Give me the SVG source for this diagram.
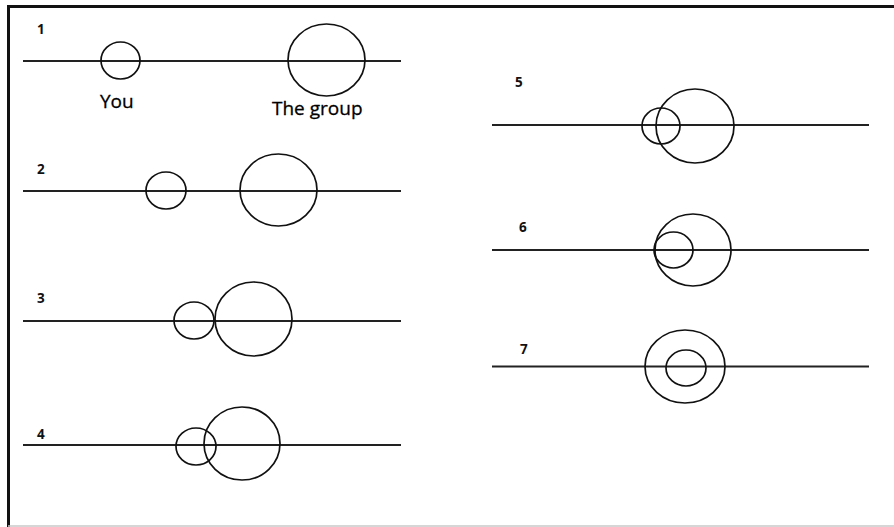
<svg xmlns="http://www.w3.org/2000/svg" width="894" height="527" viewBox="0 0 894 527">
  <style>
    .axis { stroke: #222; stroke-width: 2; fill: none; }
    .ring { stroke: #111; stroke-width: 1.7; fill: none; }
    .num { font-family: "Open Sans", "Liberation Sans", sans-serif; font-size: 13.5px; font-weight: bold; fill: #111; }
    .lbl { font-family: "Open Sans", "Liberation Sans", sans-serif; font-size: 19px; fill: #000; stroke: #000; stroke-width: 0.3; }
  </style>
  <rect width="894" height="527" fill="#fff"/>
  <!-- frame: left and top edges, faint bottom rule -->
  <path d="M8.5 527 V6.5 H894" stroke="#111" stroke-width="3" fill="none"/>
  <line x1="8" y1="526" x2="894" y2="526" stroke="#c8c8c8" stroke-width="1.5"/>

  <g id="connectors">
    <line class="axis" x1="23" y1="61" x2="401" y2="61"/>
    <line class="axis" x1="23" y1="191" x2="401" y2="191"/>
    <line class="axis" x1="23" y1="321" x2="401" y2="321"/>
    <line class="axis" x1="23" y1="445" x2="401" y2="445"/>
    <line class="axis" x1="492" y1="125" x2="869" y2="125"/>
    <line class="axis" x1="492" y1="250" x2="869" y2="250"/>
    <line class="axis" x1="492" y1="366.5" x2="869" y2="366.5"/>
  </g>

  <g id="stage1">
    <text class="num" x="37" y="34">1</text>
    <ellipse class="ring" cx="120.5" cy="60.5" rx="19.5" ry="18.5"/>
    <ellipse class="ring" cx="326.5" cy="60" rx="38.5" ry="36"/>
    <text class="lbl" x="100" y="108">You</text>
    <text class="lbl" x="272" y="115">The group</text>
  </g>

  <g id="stage2">
    <text class="num" x="37" y="174">2</text>
    <ellipse class="ring" cx="166" cy="190.5" rx="20" ry="18.5"/>
    <ellipse class="ring" cx="278.5" cy="190" rx="38.5" ry="36"/>
  </g>

  <g id="stage3">
    <text class="num" x="37" y="303">3</text>
    <ellipse class="ring" cx="194" cy="320.5" rx="20" ry="18.5"/>
    <ellipse class="ring" cx="253.5" cy="319" rx="38.5" ry="37"/>
  </g>

  <g id="stage4">
    <text class="num" x="37" y="439">4</text>
    <ellipse class="ring" cx="196" cy="446.5" rx="20" ry="18.5"/>
    <ellipse class="ring" cx="242" cy="443.5" rx="38" ry="36.5"/>
  </g>

  <g id="stage5">
    <text class="num" x="515" y="87">5</text>
    <ellipse class="ring" cx="661" cy="126" rx="19" ry="18"/>
    <ellipse class="ring" cx="695" cy="126" rx="39" ry="37"/>
  </g>

  <g id="stage6">
    <text class="num" x="519" y="232">6</text>
    <ellipse class="ring" cx="673.5" cy="250" rx="19.5" ry="18"/>
    <ellipse class="ring" cx="693" cy="250" rx="38" ry="36"/>
  </g>

  <g id="stage7">
    <text class="num" x="520" y="354">7</text>
    <ellipse class="ring" cx="685" cy="366.5" rx="40" ry="36.5"/>
    <ellipse class="ring" cx="686" cy="368" rx="20" ry="18"/>
  </g>
</svg>
